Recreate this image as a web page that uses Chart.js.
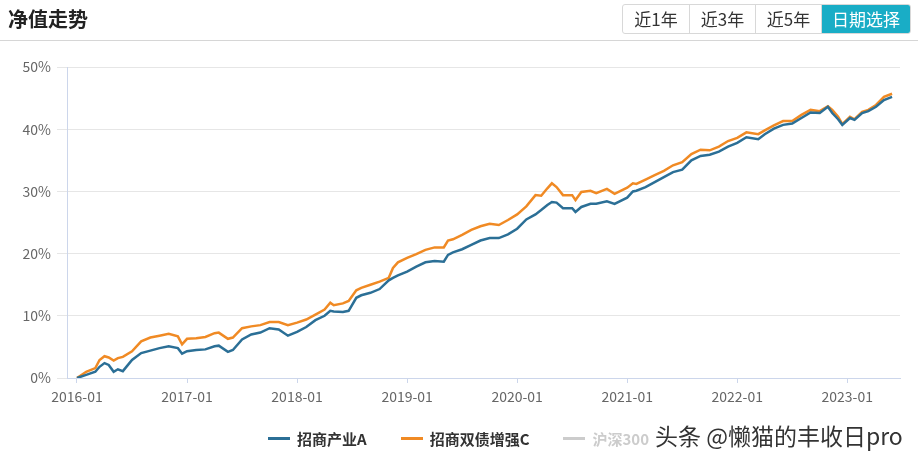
<!DOCTYPE html>
<html>
<head>
    <title>净值走势</title>
    <script src="https://cdn.jsdelivr.net/npm/chart.js"></script>
    <style>
        body {
            margin: 0;
            background-color: #ffffff;
            font-family: "Noto Sans CJK SC", "Noto Sans", sans-serif;
        }
        .page {
            position: relative;
            width: 918px;
            height: 455px;
            overflow: hidden;
        }
        .header {
            position: absolute;
            left: 0; top: 0;
            width: 918px;
            height: 40px;
            border-bottom: 1px solid #d6d6d6;
        }
        .header h3 {
            position: absolute;
            left: 8px; top: 4px;
            margin: 0;
            font-size: 20px;
            font-weight: bold;
            color: #222;
        }
        .btns {
            position: absolute;
            left: 622px; top: 4px;
            display: flex;
            border: 1px solid #d8d8d8;
            border-radius: 3px;
            overflow: hidden;
        }
        .btns span {
            display: block;
            height: 28px;
            line-height: 28px;
            width: 65px;
            text-align: center;
            font-size: 17px;
            color: #333;
            border-left: 1px solid #d8d8d8;
        }
        .btns span:first-child { border-left: none; width: 66px; }
        .btns span.active {
            width: 88px;
            background-color: #19adc6;
            color: #ffffff;
        }
        canvas#navChart {
            position: absolute;
            left: 0; top: 0;
        }
        .legend {
            position: absolute;
            left: 268px; top: 428px;
            display: flex;
            align-items: center;
            height: 20px;
        }
        .legend .item {
            display: flex;
            align-items: center;
            margin-right: 34px;
            font-size: 15px;
            font-weight: bold;
            color: #333;
        }
        .legend .mark {
            width: 22px;
            height: 3px;
            margin-right: 7px;
        }
        .watermark {
            position: absolute;
            left: 655px; top: 418px;
            font-size: 23px;
            color: #333;
            text-shadow: 0 0 2px #fff, 0 0 2px #fff;
            white-space: nowrap;
        }
    </style>
</head>
<body>
<div class="page">
    <canvas id="navChart" width="918" height="455"></canvas>
    <div class="header">
        <h3>净值走势</h3>
        <div class="btns">
            <span>近1年</span><span>近3年</span><span>近5年</span><span class="active">日期选择</span>
        </div>
    </div>
    <div class="legend" id="legend"></div>
    <div class="watermark">头条 @懒猫的丰收日pro</div>
</div>

<script>
    const dates = [
        '2016-01-01', '2016-02-01', '2016-03-01', '2016-03-15', '2016-04-01', '2016-04-15',
        '2016-05-01', '2016-05-15', '2016-06-01', '2016-07-01', '2016-08-01', '2016-09-01',
        '2016-10-01', '2016-11-01', '2016-12-01', '2016-12-15', '2017-01-01', '2017-02-01',
        '2017-03-01', '2017-04-01', '2017-04-15', '2017-05-15', '2017-06-01', '2017-07-01',
        '2017-08-01', '2017-09-01', '2017-10-01', '2017-11-01', '2017-12-01', '2018-01-01',
        '2018-02-01', '2018-03-01', '2018-04-01', '2018-04-20', '2018-05-01', '2018-06-01',
        '2018-06-20', '2018-07-15', '2018-08-01', '2018-09-01', '2018-10-01', '2018-11-01',
        '2018-11-15', '2018-12-01', '2019-01-01', '2019-02-01', '2019-03-01', '2019-04-01',
        '2019-05-01', '2019-05-15', '2019-06-01', '2019-07-01', '2019-08-01', '2019-09-01',
        '2019-10-01', '2019-11-01', '2019-12-01', '2020-01-01', '2020-02-01', '2020-03-01',
        '2020-03-20', '2020-04-10', '2020-04-25', '2020-05-10', '2020-06-01', '2020-07-01',
        '2020-07-12', '2020-08-01', '2020-09-01', '2020-09-20', '2020-10-25', '2020-11-20',
        '2021-01-01', '2021-01-20', '2021-02-01', '2021-03-01', '2021-04-01', '2021-05-01',
        '2021-06-01', '2021-07-01', '2021-08-01', '2021-09-01', '2021-10-01', '2021-11-01',
        '2021-12-01', '2022-01-01', '2022-02-01', '2022-03-10', '2022-04-01', '2022-05-01',
        '2022-06-01', '2022-07-01', '2022-08-01', '2022-09-01', '2022-10-01', '2022-10-28',
        '2022-11-12', '2022-12-01', '2022-12-15', '2023-01-10', '2023-01-25', '2023-02-20',
        '2023-03-10', '2023-04-05', '2023-05-01', '2023-05-28'
    ];

    // 招商产业A, cumulative return in %
    const fundA = [
        0.0, 0.5, 1.0, 1.8, 2.4, 2.1,
        1.0, 1.4, 1.1, 2.9, 4.0, 4.4,
        4.8, 5.1, 4.8, 3.9, 4.3, 4.5,
        4.6, 5.1, 5.2, 4.2, 4.5, 6.2,
        7.0, 7.3, 8.0, 7.8, 6.8, 7.4,
        8.2, 9.3, 10.0, 10.8, 10.7, 10.6,
        10.8, 12.9, 13.3, 13.7, 14.3, 15.7,
        16.1, 16.5, 17.1, 17.9, 18.6, 18.8,
        18.7, 19.8, 20.2, 20.7, 21.4, 22.1,
        22.5, 22.5, 23.1, 24.0, 25.5, 26.3,
        27.0, 27.8, 28.3, 28.2, 27.3, 27.3,
        26.7, 27.5, 28.0, 28.0, 28.4, 28.0,
        29.0, 30.0, 30.1, 30.7, 31.5, 32.3,
        33.1, 33.5, 35.0, 35.7, 35.9, 36.4,
        37.2, 37.8, 38.7, 38.4, 39.2, 40.1,
        40.7, 40.9, 41.8, 42.7, 42.6, 43.6,
        42.6, 41.6, 40.7, 41.8, 41.5, 42.6,
        42.9, 43.6, 44.7, 45.2
    ];

    // 招商双债增强C, cumulative return in %
    const fundC = [
        0.0, 1.0, 1.6, 2.9, 3.5, 3.3,
        2.8, 3.2, 3.4, 4.3, 5.9, 6.5,
        6.8, 7.1, 6.7, 5.4, 6.3, 6.4,
        6.6, 7.2, 7.3, 6.3, 6.5, 8.0,
        8.3, 8.5, 9.0, 9.0, 8.5, 8.9,
        9.4, 10.2, 11.0, 12.1, 11.7, 12.0,
        12.4, 14.1, 14.5, 15.0, 15.5, 16.1,
        17.7, 18.6, 19.3, 19.9, 20.6, 21.0,
        21.0, 22.1, 22.3, 23.0, 23.8, 24.4,
        24.8, 24.6, 25.4, 26.3, 27.6, 29.4,
        29.3, 30.5, 31.3, 30.7, 29.4, 29.4,
        28.6, 29.9, 30.1, 29.7, 30.4, 29.6,
        30.6, 31.3, 31.2, 31.9, 32.6, 33.3,
        34.2, 34.7, 36.0, 36.7, 36.6, 37.2,
        38.1, 38.6, 39.5, 39.2, 39.8, 40.6,
        41.3, 41.3, 42.3, 43.1, 42.9, 43.7,
        43.1, 42.0, 40.8, 42.0, 41.6, 42.8,
        43.1, 43.9, 45.2, 45.7
    ];

    const tickLabels = ['2016-01', '2017-01', '2018-01', '2019-01', '2020-01', '2021-01', '2022-01', '2023-01'];
    const seriesNames = ['招商产业A', '招商双债增强C', '沪深300'];
    const seriesColors = ['#2b6f96', '#f08a24', '#cccccc'];

    // months since 2016-01
    function monthIndex(d) {
        const [y, m, day] = d.split('-').map(Number);
        return (y - 2016) * 12 + (m - 1) + (day - 1) / 30.5;
    }
    function toPoints(values) {
        return values.map((v, i) => ({ x: monthIndex(dates[i]), y: v }));
    }
    function tickMonth(label) {
        return monthIndex(label + '-01');
    }

    const tickFont = { size: 14, family: '"Noto Sans CJK SC", sans-serif' };

    const ctx = document.getElementById('navChart').getContext('2d');
    const chart = new Chart(ctx, {
        type: 'line',
        data: {
            datasets: [{
                label: seriesNames[0],
                data: toPoints(fundA),
                borderColor: seriesColors[0],
                borderWidth: 2.5,
                pointRadius: 0,
                tension: 0
            }, {
                label: seriesNames[1],
                data: toPoints(fundC),
                borderColor: seriesColors[1],
                borderWidth: 2.5,
                pointRadius: 0,
                tension: 0
            }, {
                label: seriesNames[2],
                data: [],
                hidden: true,
                borderColor: seriesColors[2],
                borderWidth: 2.5,
                pointRadius: 0
            }]
        },
        options: {
            responsive: false,
            animation: false,
            layout: { padding: { left: 18, right: 18, top: 67, bottom: 47 } },
            scales: {
                x: {
                    type: 'linear',
                    min: -1.09,
                    max: 89.75,
                    afterBuildTicks: (scale) => {
                        scale.ticks = tickLabels.map(t => ({ value: tickMonth(t) }));
                    },
                    afterFit: (scale) => { scale.height = 30; },
                    ticks: {
                        color: '#666',
                        font: tickFont,
                        padding: 5,
                        maxRotation: 0,
                        autoSkip: false,
                        callback: (value) => {
                            const i = tickLabels.findIndex(t => Math.abs(tickMonth(t) - value) < 0.01);
                            return i >= 0 ? tickLabels[i] : '';
                        }
                    },
                    grid: {
                        drawOnChartArea: false,
                        drawTicks: true,
                        tickLength: 5,
                        color: '#ccd6eb'
                    },
                    border: { color: '#ccd6eb', width: 1 }
                },
                y: {
                    min: 0,
                    max: 50,
                    afterFit: (scale) => { scale.width = 49; },
                    ticks: {
                        stepSize: 10,
                        color: '#666',
                        padding: 6,
                        font: tickFont,
                        callback: (v) => v + '%'
                    },
                    grid: {
                        color: '#e6e6e6',
                        tickLength: 10,
                        tickColor: '#e6e6e6'
                    },
                    border: { color: '#ccd6eb', width: 1 }
                }
            },
            plugins: {
                tooltip: { enabled: false },
                legend: { display: false }
            }
        }
    });

    // legend below the chart, built from the datasets
    const legendBox = document.getElementById('legend');
    chart.data.datasets.forEach((ds, i) => {
        const item = document.createElement('div');
        item.className = 'item';
        if (i === 2) item.style.color = '#cccccc';
        const mark = document.createElement('span');
        mark.className = 'mark';
        mark.style.backgroundColor = ds.borderColor;
        item.appendChild(mark);
        item.appendChild(document.createTextNode(ds.label));
        legendBox.appendChild(item);
    });
</script>
</body>
</html>
